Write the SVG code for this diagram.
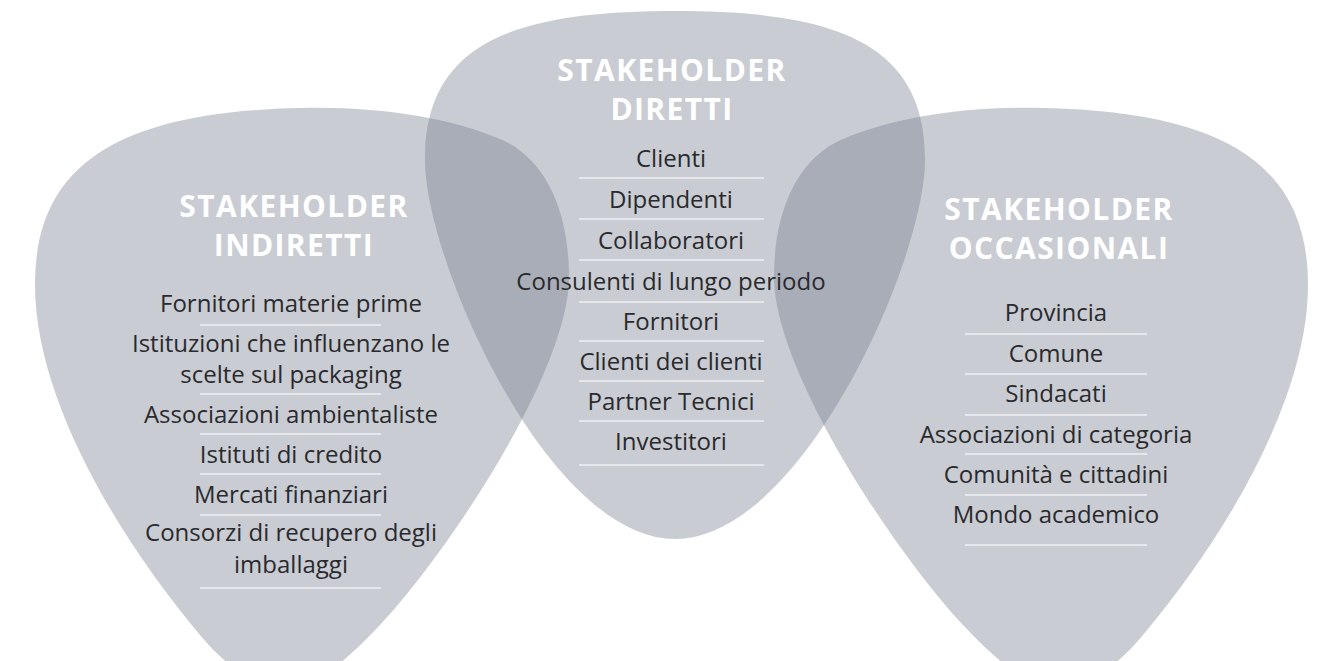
<svg xmlns="http://www.w3.org/2000/svg" width="1322" height="661" viewBox="0 0 1322 661">
  <style>
    .shape { fill: rgb(117,124,142); fill-opacity: 0.39; }
    .title { font-family: "Open Sans", "Liberation Sans", sans-serif; font-weight: 700; font-size: 30px; fill: #ffffff; text-anchor: middle; letter-spacing: 1.4px; }
    .item { font-family: "Open Sans", "Liberation Sans", sans-serif; font-size: 24px; fill: #2a2a2d; text-anchor: middle; }
    .sep { stroke: #e6e7ea; stroke-width: 2; }
  </style>
  <rect width="1322" height="661" fill="#ffffff"/>

  <g id="shapes">
    <path id="shape-indiretti" class="shape" d="M 35,285 C 35,170 110,112 300,108 C 380,106 450,118 500,139 C 545,158 569,210 569,277 C 569,370 450,550 380,625 C 345,662 315,688 285,688 C 255,688 225,665 200,635 C 120,540 35,400 35,285 Z"/>
    <path id="shape-diretti" class="shape" d="M 675,11 C 830,11 926,40 925,160 C 925,260 802,539 675,539 C 548,539 425,260 425,160 C 424,40 520,11 675,11 Z"/>
    <path id="shape-occasionali" class="shape" d="M 1308,285 C 1308,170 1233,112 1043,108 C 963,106 893,118 843,139 C 798,158 774,210 774,277 C 774,370 893,550 963,625 C 998,662 1028,688 1058,688 C 1088,688 1118,665 1143,635 C 1223,540 1308,400 1308,285 Z"/>
  </g>

  <g id="node-indiretti">
    <text class="title" x="294" y="217">STAKEHOLDER</text>
    <text class="title" x="294" y="256">INDIRETTI</text>
    <text class="item" x="291" y="312">Fornitori materie prime</text>
    <line class="sep" x1="200" y1="325" x2="381" y2="325"/>
    <text class="item" x="291" y="352">Istituzioni che influenzano le</text>
    <text class="item" x="291" y="383">scelte sul packaging</text>
    <line class="sep" x1="200" y1="394" x2="381" y2="394"/>
    <text class="item" x="291" y="423">Associazioni ambientaliste</text>
    <line class="sep" x1="200" y1="434" x2="381" y2="434"/>
    <text class="item" x="291" y="463">Istituti di credito</text>
    <line class="sep" x1="200" y1="474" x2="381" y2="474"/>
    <text class="item" x="291" y="503">Mercati finanziari</text>
    <line class="sep" x1="200" y1="515" x2="381" y2="515"/>
    <text class="item" x="291" y="541">Consorzi di recupero degli</text>
    <text class="item" x="291" y="573">imballaggi</text>
    <line class="sep" x1="200" y1="588" x2="381" y2="588"/>
  </g>

  <g id="node-diretti">
    <text class="title" x="672" y="81">STAKEHOLDER</text>
    <text class="title" x="672" y="120">DIRETTI</text>
    <text class="item" x="671" y="167">Clienti</text>
    <line class="sep" x1="579" y1="178" x2="764" y2="178"/>
    <text class="item" x="671" y="208">Dipendenti</text>
    <line class="sep" x1="579" y1="219" x2="764" y2="219"/>
    <text class="item" x="671" y="249">Collaboratori</text>
    <line class="sep" x1="579" y1="260" x2="764" y2="260"/>
    <text class="item" x="671" y="290">Consulenti di lungo periodo</text>
    <line class="sep" x1="579" y1="302" x2="764" y2="302"/>
    <text class="item" x="671" y="330">Fornitori</text>
    <line class="sep" x1="579" y1="341" x2="764" y2="341"/>
    <text class="item" x="671" y="370">Clienti dei clienti</text>
    <line class="sep" x1="579" y1="381" x2="764" y2="381"/>
    <text class="item" x="671" y="410">Partner Tecnici</text>
    <line class="sep" x1="579" y1="421" x2="764" y2="421"/>
    <text class="item" x="671" y="450">Investitori</text>
    <line class="sep" x1="579" y1="465" x2="764" y2="465"/>
  </g>

  <g id="node-occasionali">
    <text class="title" x="1059" y="220">STAKEHOLDER</text>
    <text class="title" x="1059" y="259">OCCASIONALI</text>
    <text class="item" x="1056" y="321">Provincia</text>
    <line class="sep" x1="965" y1="334" x2="1147" y2="334"/>
    <text class="item" x="1056" y="362">Comune</text>
    <line class="sep" x1="965" y1="374" x2="1147" y2="374"/>
    <text class="item" x="1056" y="402">Sindacati</text>
    <line class="sep" x1="965" y1="415" x2="1147" y2="415"/>
    <text class="item" x="1056" y="443">Associazioni di categoria</text>
    <line class="sep" x1="965" y1="454" x2="1147" y2="454"/>
    <text class="item" x="1056" y="483">Comunità e cittadini</text>
    <line class="sep" x1="965" y1="495" x2="1147" y2="495"/>
    <text class="item" x="1056" y="523">Mondo academico</text>
    <line class="sep" x1="965" y1="545" x2="1147" y2="545"/>
  </g>

  <g id="connectors"></g>
</svg>
